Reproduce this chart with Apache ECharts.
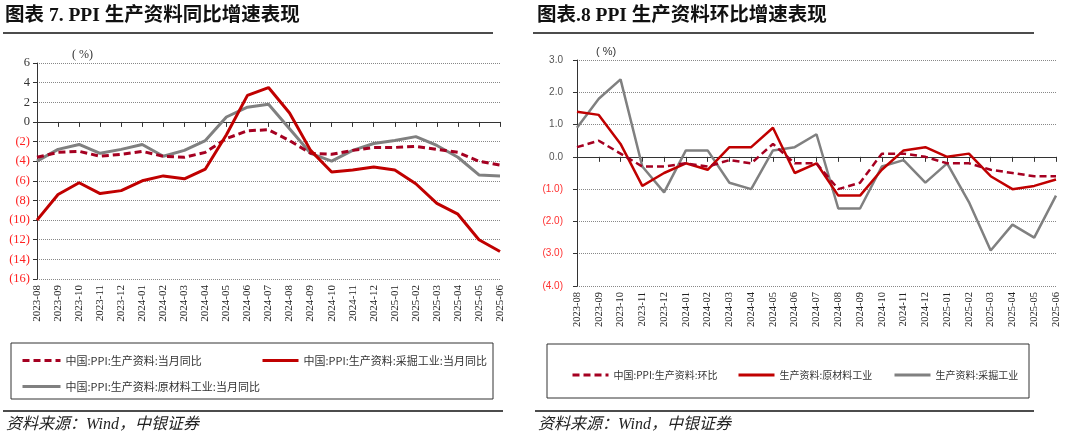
<!DOCTYPE html>
<html>
<head>
<meta charset="utf-8">
<script src="https://cdn.jsdelivr.net/npm/echarts@6/dist/echarts.min.js"></script>
<style>
html,body{margin:0;padding:0;background:#fff;}
#main{width:1080px;height:441px;}
</style>
</head>
<body>
<div id="main"></div>
<script>
var months = ['2023-08','2023-09','2023-10','2023-11','2023-12','2024-01','2024-02','2024-03','2024-04','2024-05','2024-06','2024-07',
  '2024-08','2024-09','2024-10','2024-11','2024-12','2025-01','2025-02','2025-03','2025-04','2025-05','2025-06'];

// 图表7 同比
var yoyAll = [-3.6,-3.1,-3.0,-3.5,-3.3,-3.0,-3.5,-3.6,-3.1,-1.7,-0.9,-0.8,-1.9,-3.2,-3.3,-2.9,-2.6,-2.6,-2.5,-2.8,-3.1,-4.0,-4.4];
var yoyMining = [-10.0,-7.4,-6.2,-7.3,-7.0,-6.0,-5.5,-5.8,-4.8,-1.3,2.7,3.5,0.9,-2.9,-5.1,-4.9,-4.6,-4.9,-6.3,-8.3,-9.4,-12.0,-13.2];
var yoyRaw = [-4.0,-2.8,-2.3,-3.2,-2.8,-2.3,-3.5,-2.9,-1.9,0.5,1.5,1.8,-0.7,-3.2,-4.0,-2.9,-2.2,-1.9,-1.5,-2.4,-3.6,-5.4,-5.5];

// 图表8 环比
var momAll = [0.3,0.5,0.1,-0.3,-0.3,-0.2,-0.3,-0.1,-0.2,0.4,-0.2,-0.2,-1.0,-0.8,0.1,0.1,0.0,-0.2,-0.2,-0.4,-0.5,-0.6,-0.6];
var momRaw = [1.4,1.3,0.4,-0.9,-0.5,-0.2,-0.4,0.3,0.3,0.9,-0.5,-0.2,-1.2,-1.2,-0.4,0.2,0.3,0.0,0.1,-0.6,-1.0,-0.9,-0.7];
var momMining = [0.9,1.8,2.4,-0.3,-1.1,0.2,0.2,-0.8,-1.0,0.2,0.3,0.7,-1.6,-1.6,-0.3,-0.1,-0.8,-0.2,-1.4,-2.9,-2.1,-2.5,-1.2];

var names1 = ['中国:PPI:生产资料:当月同比','中国:PPI:生产资料:采掘工业:当月同比','中国:PPI:生产资料:原材料工业:当月同比'];
var names2 = ['中国:PPI:生产资料:环比','生产资料:原材料工业','生产资料:采掘工业'];

var RED = '#C00000', DASH = '#A50021', GRAY = '#808080';
var serif = '"Liberation Serif","Noto Sans CJK SC",serif';
var cjk = '"Noto Sans CJK SC","Liberation Serif",serif';

function negLabel(v, dec){
  var s = Math.abs(v).toFixed(dec);
  return v < 0 ? '(' + s + ')' : s;
}

var myChart = echarts.init(document.getElementById('main'));

function xAxes(gi, fs){
  return [
    {type:'category', gridIndex:gi, data:months, boundaryGap:false, position:'bottom',
     axisLine:{show:false, onZero:false}, axisTick:{show:false},
     axisLabel:{rotate:90, fontSize:fs, fontFamily:serif, color:'#222', margin:6, interval:0}},
    {type:'category', gridIndex:gi, data:months, boundaryGap:false, position:'bottom',
     axisLine:{show:true, onZero:true, lineStyle:{color:'#333', width:1}},
     axisTick:{show:true, length:5, interval:0, lineStyle:{color:'#333'}},
     axisLabel:{show:false}}
  ];
}

function lg(name, left, top, fs, w){
  return {data:[name], left:left, top:top, itemWidth:w, itemHeight:10, itemGap:6,
    itemStyle:{opacity:0}, lineStyle:{width:3},
    textStyle:{fontSize:fs, fontFamily:cjk, color:'#333'}};
}

var option = {
  animation:false,
  grid:[
    {left:37, top:63, width:463, height:216},
    {left:577, top:60, width:479, height:226}
  ],
  xAxis: xAxes(0, 11).concat(xAxes(1, 10.5)),
  yAxis:[
    {type:'value', gridIndex:0, min:-16, max:6, interval:2,
     axisLine:{show:true, lineStyle:{color:'#333'}}, axisTick:{show:true, length:4, lineStyle:{color:'#333'}},
     splitLine:{lineStyle:{type:'dotted', color:'#888'}},
     axisLabel:{fontSize:12.5, fontFamily:serif, margin:7,
       formatter:function(v){return negLabel(v,0);},
       color:function(v){return v < 0 ? '#FF2020' : '#333';}}},
    {type:'value', gridIndex:1, min:-4, max:3, interval:1,
     axisLine:{show:true, lineStyle:{color:'#333'}}, axisTick:{show:true, length:4, lineStyle:{color:'#333'}},
     splitLine:{lineStyle:{type:'dotted', color:'#888'}},
     axisLabel:{fontSize:10, fontFamily:'"Liberation Sans",Arial,sans-serif', margin:14,
       formatter:function(v){return negLabel(v,1);},
       color:function(v){return v < 0 ? '#FF3030' : '#555';}}}
  ],
  legend:[
    lg(names1[0], 16, 350, 11, 38),
    lg(names1[1], 256, 350, 11, 36),
    lg(names1[2], 16, 376, 11, 38),
    lg(names2[0], 566, 365, 10, 36),
    lg(names2[1], 732, 365, 10, 36),
    lg(names2[2], 888, 365, 10, 36)
  ],
  series:[
    {name:names1[0], type:'line', xAxisIndex:0, yAxisIndex:0, data:yoyAll, symbol:'none', z:3,
     lineStyle:{color:DASH, width:3, type:[7,4]}, itemStyle:{color:DASH}},
    {name:names1[1], type:'line', xAxisIndex:0, yAxisIndex:0, data:yoyMining, symbol:'none', z:4,
     lineStyle:{color:RED, width:3}, itemStyle:{color:RED}},
    {name:names1[2], type:'line', xAxisIndex:0, yAxisIndex:0, data:yoyRaw, symbol:'none', z:2,
     lineStyle:{color:GRAY, width:3}, itemStyle:{color:GRAY}},
    {name:names2[0], type:'line', xAxisIndex:2, yAxisIndex:1, data:momAll, symbol:'none', z:4,
     lineStyle:{color:DASH, width:2.5, type:[7,4]}, itemStyle:{color:DASH}},
    {name:names2[1], type:'line', xAxisIndex:2, yAxisIndex:1, data:momRaw, symbol:'none', z:3,
     lineStyle:{color:RED, width:2.5}, itemStyle:{color:RED}},
    {name:names2[2], type:'line', xAxisIndex:2, yAxisIndex:1, data:momMining, symbol:'none', z:2,
     lineStyle:{color:GRAY, width:2.5}, itemStyle:{color:GRAY}}
  ],
  graphic:[
    {type:'text', left:5, top:6, style:{text:'图表 7. PPI 生产资料同比增速表现', font:'bold 19.5px ' + serif, fill:'#111'}},
    {type:'line', shape:{x1:3, y1:33, x2:493, y2:33}, style:{stroke:'#111', lineWidth:1.5}},
    {type:'text', left:537, top:6, style:{text:'图表.8 PPI 生产资料环比增速表现', font:'bold 19.5px ' + serif, fill:'#111'}},
    {type:'line', shape:{x1:533, y1:33, x2:1034, y2:33}, style:{stroke:'#111', lineWidth:1.5}},
    {type:'text', left:72, top:49, style:{text:'( %)', font:'12px ' + serif, fill:'#333'}},
    {type:'text', left:596, top:46, style:{text:'( %)', font:'11px "Liberation Sans",sans-serif', fill:'#333'}},
    {type:'rect', shape:{x:11, y:343, width:482, height:56}, style:{fill:'none', stroke:'#333', lineWidth:1}},
    {type:'rect', shape:{x:547, y:344, width:482, height:54}, style:{fill:'none', stroke:'#333', lineWidth:1}},
    {type:'line', shape:{x1:3, y1:411, x2:503, y2:411}, style:{stroke:'#111', lineWidth:1.5}},
    {type:'line', shape:{x1:535, y1:411, x2:1034, y2:411}, style:{stroke:'#111', lineWidth:1.5}},
    {type:'text', left:6, top:417, style:{text:'资料来源：Wind，中银证券', font:'italic 16px ' + serif, fill:'#222'}},
    {type:'text', left:538, top:417, style:{text:'资料来源：Wind，中银证券', font:'italic 16px ' + serif, fill:'#222'}}
  ]
};
myChart.setOption(option);
</script>
</body>
</html>
